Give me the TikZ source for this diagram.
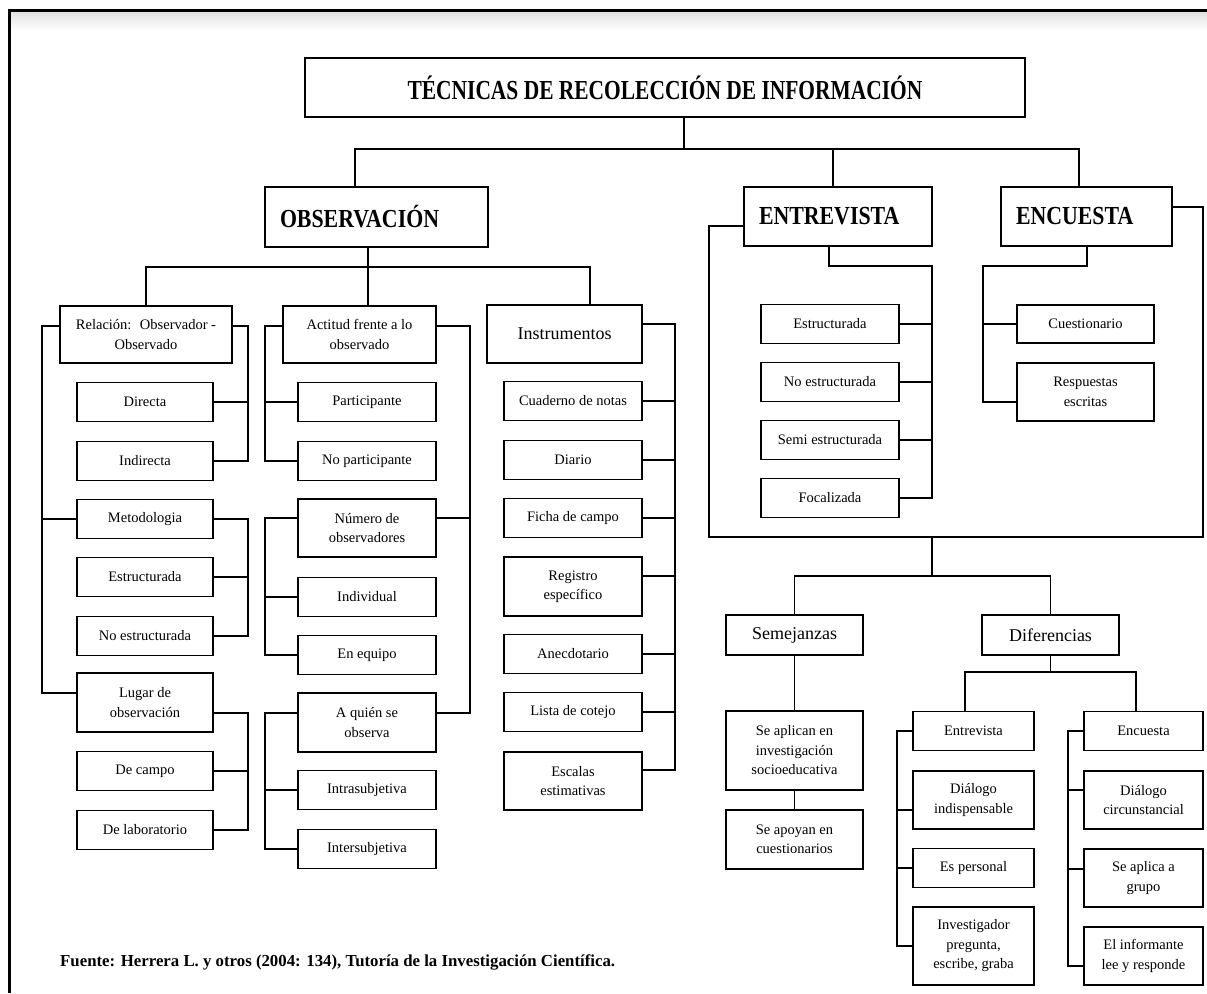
\documentclass[tikz,border=0pt]{standalone}
\usepackage{fontspec}
\setmainfont{Liberation Serif}
\newfontfamily\hdfont[FakeStretch=0.84]{Liberation Serif}
\newfontfamily\ttlfont[FakeStretch=0.78]{Liberation Serif}
\begin{document}
\begin{tikzpicture}[x=1pt,y=-1pt,
  box/.style={draw, line width=1.7pt, inner sep=0pt, align=center,
    font=\fontsize{14.5}{19.5}\selectfont},
  mid/.style={font=\fontsize{18}{22}\selectfont},
  hd/.style={font=\hdfont\bfseries\fontsize{26}{30}\selectfont, align=left, inner xsep=15pt},
  ttl/.style={font=\ttlfont\bfseries\fontsize{27.5}{32}\selectfont},
  colA/.style={box, minimum width=136pt, minimum height=39pt},
  colB/.style={box, minimum width=138pt, minimum height=39pt},
  colC/.style={box, minimum width=138pt, minimum height=39pt},
  colD/.style={box, minimum width=138pt, minimum height=39pt},
  conn/.style={line width=1.7pt}
]
\useasboundingbox (0,0) rectangle (1207,993);
\fill[white] (0,0) rectangle (1207,993);
\shade[top color=black!12, bottom color=white] (11,12) rectangle (1207,30);
\draw[line width=3pt] (8,10.5) -- (1207,10.5);
\draw[line width=3pt] (9.5,9) -- (9.5,993);

% title and main headers
\node[box, ttl, minimum width=720pt, minimum height=59pt] (title) at (665,87.5) {TÉCNICAS DE RECOLECCIÓN DE INFORMACIÓN};
\node[box, hd, text width=193pt, minimum height=60pt] (obs) at (376.5,217) {OBSERVACIÓN};
\node[box, hd, text width=158pt, minimum height=59pt] (ent) at (838,216.5) {ENTREVISTA};
\node[box, hd, text width=141pt, minimum height=59pt] (enc) at (1086.5,216.5) {ENCUESTA};

% second level
\node[box, minimum width=172pt, minimum height=57pt] (rel) at (146,334.5) {Relación:~ Observador -\\Observado};
\node[box, minimum width=153pt, minimum height=57pt] (act) at (359.5,334.5) {Actitud frente a lo\\observado};
\node[box, mid, minimum width=155pt, minimum height=58pt] (inst) at (564.5,334) {Instrumentos};

% Relacion column
\node[colA] (dir) at (145,402) {Directa};
\node[colA] (ind) at (145,461) {Indirecta};
\node[colA] (met) at (145,519) {Metodologia};
\node[colA] (est) at (145,577) {Estructurada};
\node[colA] (noe) at (145,636) {No estructurada};
\node[colA, minimum height=59pt] (lug) at (145,702.5) {Lugar de\\observación};
\node[colA] (dca) at (145,771) {De campo};
\node[colA] (dla) at (145,830) {De laboratorio};

% Actitud column
\node[colB] (par) at (367,402) {Participante};
\node[colB] (npa) at (367,461) {No participante};
\node[colB, minimum height=58pt] (num) at (367,528) {Número de\\observadores};
\node[colB] (ivd) at (367,597) {Individual};
\node[colB] (equ) at (367,655) {En equipo};
\node[colB, minimum height=59pt] (aqu) at (367,722.5) {A quién se\\observa};
\node[colB] (intra) at (367,790) {Intrasubjetiva};
\node[colB] (inter) at (367,849) {Intersubjetiva};

% Instrumentos column
\node[colC] (cua) at (573,401) {Cuaderno de notas};
\node[colC] (dia) at (573,460) {Diario};
\node[colC] (fic) at (573,518) {Ficha de campo};
\node[colC, minimum height=59pt] (reg) at (573,586.5) {Registro\\específico};
\node[colC] (ane) at (573,654) {Anecdotario};
\node[colC] (lis) at (573,712) {Lista de cotejo};
\node[colC, minimum height=58pt] (esc) at (573,781) {Escalas\\estimativas};

% Entrevista group
\node[colD] (ea) at (830,324) {Estructurada};
\node[colD] (eb) at (830,382) {No estructurada};
\node[colD] (ec) at (830,440) {Semi estructurada};
\node[colD] (ed) at (830,498) {Focalizada};

% Encuesta group
\node[box, minimum width=137pt, minimum height=38pt] (cue) at (1085.5,324) {Cuestionario};
\node[box, minimum width=137pt, minimum height=58pt] (res) at (1085.5,392) {Respuestas\\escritas};

% lower part
\node[box, mid, minimum width=137pt, minimum height=40pt] (sem) at (794.5,635) {Semejanzas};
\node[box, mid, minimum width=137pt, minimum height=40pt] (dif) at (1050.5,635) {Diferencias};
\node[box, minimum width=137pt, minimum height=79pt] (apl) at (794.5,750.5) {Se aplican en\\investigación\\socioeducativa};
\node[box, minimum width=137pt, minimum height=59pt] (apo) at (794.5,839.5) {Se apoyan en\\cuestionarios};

\node[box, minimum width=121pt, minimum height=39pt] (ent2) at (973.5,731) {Entrevista};
\node[box, minimum width=121pt, minimum height=58pt] (dind) at (973.5,800) {Diálogo\\indispensable};
\node[box, minimum width=121pt, minimum height=39pt] (eper) at (973.5,868) {Es personal};
\node[box, minimum width=121pt, minimum height=78pt] (inv) at (973.5,946) {Investigador\\pregunta,\\escribe, graba};

\node[box, minimum width=119pt, minimum height=39pt] (enc2) at (1143.5,731) {Encuesta};
\node[box, minimum width=119pt, minimum height=58pt] (dcir) at (1143.5,800) {Diálogo\\circunstancial};
\node[box, minimum width=119pt, minimum height=58pt] (sapl) at (1143.5,878) {Se aplica a\\grupo};
\node[box, minimum width=119pt, minimum height=58pt] (info) at (1143.5,956) {El informante\\lee y responde};

% footer
\node[anchor=west, inner sep=0pt, font=\bfseries\fontsize{16.8}{20}\selectfont] (src) at (60,962) {Fuente: Herrera L. y otros (2004: 134), Tutoría de la Investigación Científica.};

% ---- connectors ----
\draw[conn] (title.south -| 684,0) -- (684,149);
\draw[conn] (obs.north -| 355,0) |- (1079,149) -- (enc.north -| 1079,0);
\draw[conn] (833,149) -- (ent.north -| 833,0);

\draw[conn] (obs.south -| 368,0) -- (act.north -| 368,0);
\draw[conn] (rel.north) |- (590,267) -- (inst.north -| 590,0);

% Relacion
\draw[conn] (rel.west |- 0,326) -| (42,693) -- (lug.west |- 0,693);
\draw[conn] (met.west) -- (met.west -| 42,0);
\draw[conn] (rel.east |- 0,326) -| (248,461) -- (ind.east);
\draw[conn] (dir.east) -- (dir.east -| 248,0);
\draw[conn] (met.east) -| (248,636) -- (noe.east);
\draw[conn] (est.east) -- (est.east -| 248,0);
\draw[conn] (lug.east |- 0,713) -| (248,830) -- (dla.east);
\draw[conn] (dca.east) -- (dca.east -| 248,0);

% Actitud
\draw[conn] (act.west |- 0,326) -| (265,461) -- (npa.west);
\draw[conn] (par.west) -- (par.west -| 265,0);
\draw[conn] (act.east |- 0,326) -| (470,713) -- (aqu.east |- 0,713);
\draw[conn] (num.east |- 0,518) -- (470,518);
\draw[conn] (num.west |- 0,518) -| (265,655) -- (equ.west);
\draw[conn] (ivd.west) -- (ivd.west -| 265,0);
\draw[conn] (aqu.west |- 0,713) -| (265,849) -- (inter.west);
\draw[conn] (intra.west) -- (intra.west -| 265,0);

% Instrumentos
\draw[conn] (inst.east |- 0,324) -| (675,770) -- (esc.east |- 0,770);
\draw[conn] (cua.east) -- (cua.east -| 675,0);
\draw[conn] (dia.east) -- (dia.east -| 675,0);
\draw[conn] (fic.east) -- (fic.east -| 675,0);
\draw[conn] (reg.east |- 0,576) -- (675,576);
\draw[conn] (ane.east) -- (ane.east -| 675,0);
\draw[conn] (lis.east) -- (lis.east -| 675,0);

% Entrevista / Encuesta
\draw[conn] (ent.west |- 0,226) -| (709,537) -| (1203,207) -- (enc.east |- 0,207);
\draw[conn] (ent.south -| 829,0) |- (932,266) -- (932,498) -- (ed.east);
\draw[conn] (ea.east) -- (ea.east -| 932,0);
\draw[conn] (eb.east) -- (eb.east -| 932,0);
\draw[conn] (ec.east) -- (ec.east -| 932,0);
\draw[conn] (enc.south -| 1087,0) |- (983,266) -- (983,402) -- (res.west |- 0,402);
\draw[conn] (cue.west) -- (cue.west -| 983,0);

% lower
\draw[conn] (932,537) -- (932,576);
\draw[conn] (sem.north) |- (dif.north |- 0,576) -- (dif.north);
\draw[conn] (sem.south) -- (apl.north);
\draw[conn] (apl.south) -- (apo.north);
\draw[conn] (dif.south) -- (dif.south |- 0,672);
\draw[conn] (ent2.north -| 965,0) |- (1136,672) -- (enc2.north -| 1136,0);
\draw[conn] (ent2.west) -| (897,946) -- (inv.west);
\draw[conn] (dind.west |- 0,810) -- (897,810);
\draw[conn] (eper.west) -- (eper.west -| 897,0);
\draw[conn] (enc2.west) -| (1068,966) -- (info.west |- 0,966);
\draw[conn] (dcir.west |- 0,790) -- (1068,790);
\draw[conn] (sapl.west |- 0,869) -- (1068,869);
\end{tikzpicture}
\end{document}
